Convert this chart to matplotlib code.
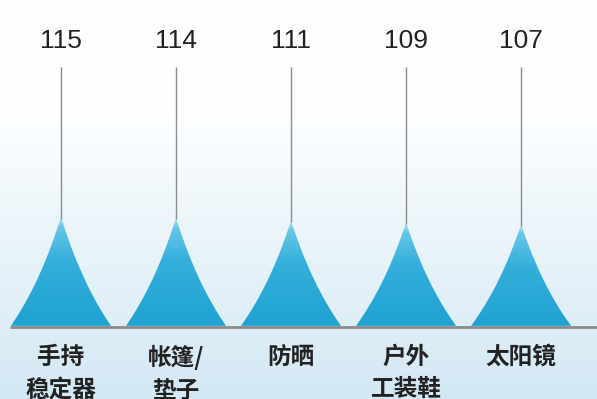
import numpy as np
import matplotlib.pyplot as plt
from matplotlib.colors import LinearSegmentedColormap
from matplotlib.patches import Polygon

# ===== data =====
categories = ["手持\n稳定器", "帐篷/\n垫子", "防晒", "户外\n工装鞋", "太阳镜"]
values = [115, 114, 111, 109, 107]

plt.rcParams['font.family'] = ['Noto Sans CJK SC', 'DejaVu Sans']

fig = plt.figure(figsize=(5.97, 3.99), dpi=100)
ax = fig.add_axes([0, 0, 1, 1])
xlim = (-0.53, 4.66)
ylim = (-77, 343)

# background gradient
bg_cmap = LinearSegmentedColormap.from_list(
    'bg', [(0, '#ffffff'), (0.3, '#fcfeff'), (0.6, '#eaf4fa'), (1, '#d3e8f4')])
grad = np.linspace(0, 1, 256).reshape(-1, 1)
ax.imshow(grad, cmap=bg_cmap, aspect='auto', extent=[*xlim, *ylim],
          origin='upper', zorder=0)

# baseline
ax.plot([-0.445, xlim[1]], [-1.2, -1.2], color='#8a8a8a', lw=2, zorder=1,
        solid_capstyle='butt')

# spike shape: quadratic bezier from tip to base
s = np.linspace(0, 1, 80)
bx = 2 * s * (1 - s) * 0.4 + s ** 2
by = (1 - s) ** 2 + 2 * s * (1 - s) * 0.4
half = 0.435
spike_cmap = LinearSegmentedColormap.from_list(
    'spike', [(0, '#1ea2d2'), (0.6, '#35afdb'), (0.9, '#66c6e6'), (1, '#bfe6f4')])

for i, v in enumerate(values):
    xs = np.concatenate([i - half * bx[::-1], i + half * bx[1:]])
    ys = np.concatenate([v * by[::-1], v * by[1:]])
    poly = Polygon(np.column_stack([xs, ys]), closed=True,
                   facecolor='none', edgecolor='none')
    ax.add_patch(poly)
    im = ax.imshow(grad, cmap=spike_cmap, aspect='auto',
                   extent=[i - half, i + half, 0, v], origin='lower', zorder=2)
    im.set_clip_path(poly)

    # leader line and value
    ax.vlines(i, v - 2, 272, color='#8c8c8c', lw=1, zorder=3)
    ax.text(i, 300, str(v), ha='center', va='center', fontsize=19,
            color='#222222', family=['Liberation Sans'])

    # category label
    ax.text(i, -20, categories[i], ha='center', va='top', fontsize=17,
            linespacing=1.45, color='#222222', weight='bold')

ax.set_xlim(*xlim)
ax.set_ylim(*ylim)
ax.axis('off')

plt.savefig("out.png", dpi=100)
